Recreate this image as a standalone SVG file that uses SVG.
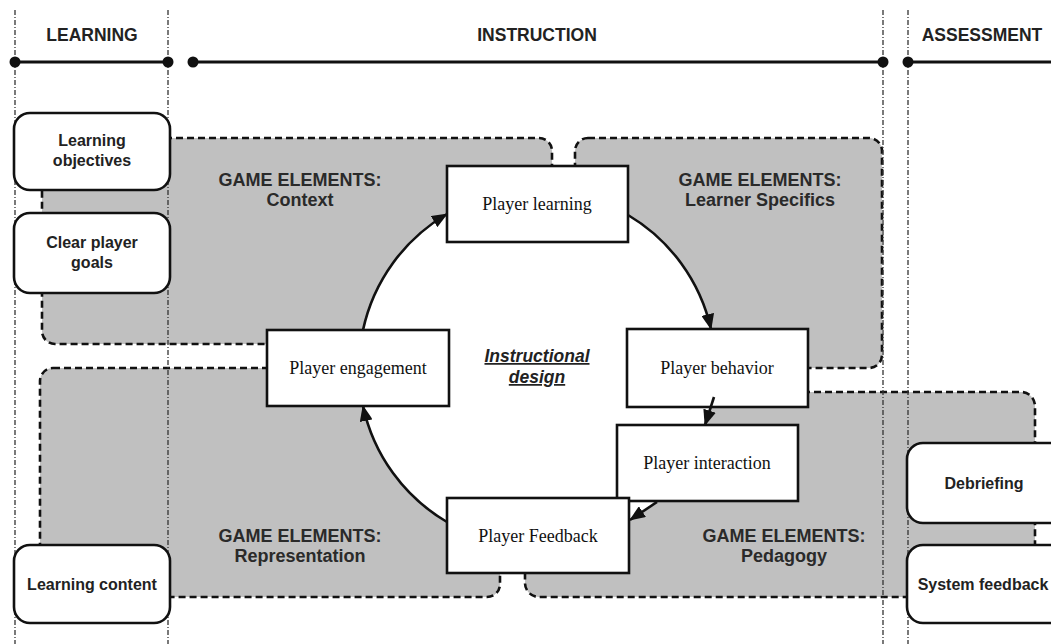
<svg xmlns="http://www.w3.org/2000/svg" width="1051" height="644" viewBox="0 0 1051 644">
<style>
.region{fill:#c0c0c0;stroke:#111;stroke-width:2.6;stroke-dasharray:7 4}
.vline{stroke:#333;stroke-width:1.3;stroke-dasharray:5 2 1 2;fill:none}
.hline{stroke:#111;stroke-width:3.2}
.dot{fill:#111}
.hdr{font-family:"Liberation Sans",Arial,sans-serif;font-weight:bold;font-size:17.5px;fill:#222;text-anchor:middle}
.ge{font-family:"Liberation Sans",Arial,sans-serif;font-weight:bold;font-size:18px;fill:#2a2a2a;text-anchor:middle}
.rbox{fill:#fff;stroke:#111;stroke-width:2.6}
.rlabel{font-family:"Liberation Sans",Arial,sans-serif;font-weight:bold;font-size:16px;fill:#222;text-anchor:middle}
.pbox{fill:#fff;stroke:#111;stroke-width:2.6}
.plabel{font-family:"Liberation Serif","Times New Roman",serif;font-size:18px;fill:#111;text-anchor:middle}
.conn{fill:none;stroke:#111;stroke-width:2.6}
.center{font-family:"Liberation Sans",Arial,sans-serif;font-weight:bold;font-style:italic;font-size:17.5px;fill:#222;text-anchor:middle;text-decoration:underline}
</style>
<defs>
<marker id="arrow" markerUnits="userSpaceOnUse" markerWidth="17" markerHeight="13" refX="15" refY="6.5" orient="auto">
<path d="M0,0 L16,6.5 L0,13 z" fill="#111"/>
</marker>
</defs>
<rect width="1051" height="644" fill="#fff"/>

<g id="regions">
<rect id="region-context" class="region" x="42" y="138" width="510" height="206" rx="13"/>
<rect id="region-learner" class="region" x="575" y="138" width="307" height="230" rx="13"/>
<rect id="region-representation" class="region" x="40" y="368" width="460" height="229" rx="13"/>
<rect id="region-pedagogy" class="region" x="525" y="392" width="510" height="205" rx="14"/>
<circle cx="537" cy="368" r="178" fill="#fff"/>
</g>

<g id="phases">
<line class="vline" x1="15" y1="10" x2="15" y2="644"/>
<line class="vline" x1="168" y1="10" x2="168" y2="644"/>
<line class="vline" x1="883" y1="10" x2="883" y2="644"/>
<line class="vline" x1="908" y1="10" x2="908" y2="644"/>
<line class="hline" x1="15" y1="62" x2="168" y2="62"/>
<line class="hline" x1="193" y1="62" x2="883" y2="62"/>
<line class="hline" x1="908" y1="62" x2="1051" y2="62"/>
<circle class="dot" cx="15" cy="62" r="5.5"/>
<circle class="dot" cx="168" cy="62" r="5.5"/>
<circle class="dot" cx="193" cy="62" r="5.5"/>
<circle class="dot" cx="883" cy="62" r="5.5"/>
<circle class="dot" cx="908" cy="62" r="5.5"/>
<text class="hdr" x="92" y="41">LEARNING</text>
<text class="hdr" x="537" y="41">INSTRUCTION</text>
<text class="hdr" x="982" y="41">ASSESSMENT</text>
</g>

<g id="region-labels">
<text class="ge" x="300" y="186">GAME ELEMENTS:</text>
<text class="ge" x="300" y="206">Context</text>
<text class="ge" x="760" y="186">GAME ELEMENTS:</text>
<text class="ge" x="760" y="206">Learner Specifics</text>
<text class="ge" x="300" y="542">GAME ELEMENTS:</text>
<text class="ge" x="300" y="562">Representation</text>
<text class="ge" x="784" y="542">GAME ELEMENTS:</text>
<text class="ge" x="784" y="562">Pedagogy</text>
<text class="center" x="537" y="362">Instructional</text>
<text class="center" x="537" y="383">design</text>
</g>

<g id="node-learning-objectives">
<rect class="rbox" x="14" y="113" width="156" height="77" rx="16"/>
<text class="rlabel" x="92" y="146">Learning</text>
<text class="rlabel" x="92" y="166">objectives</text>
</g>
<g id="node-clear-player-goals">
<rect class="rbox" x="14" y="213" width="156" height="80" rx="16"/>
<text class="rlabel" x="92" y="248">Clear player</text>
<text class="rlabel" x="92" y="268">goals</text>
</g>
<g id="node-learning-content">
<rect class="rbox" x="14" y="545" width="156" height="78" rx="16"/>
<text class="rlabel" x="92" y="590">Learning content</text>
</g>
<g id="node-debriefing">
<rect class="rbox" x="907" y="443" width="162" height="80" rx="16"/>
<text class="rlabel" x="984" y="489">Debriefing</text>
</g>
<g id="node-system-feedback">
<rect class="rbox" x="907" y="545" width="162" height="78" rx="16"/>
<text class="rlabel" x="983" y="590">System feedback</text>
</g>

<g id="node-player-learning">
<rect class="pbox" x="447" y="166" width="181" height="76"/>
<text class="plabel" x="537" y="210">Player learning</text>
</g>
<g id="node-player-behavior">
<rect class="pbox" x="627" y="329" width="181" height="78"/>
<text class="plabel" x="717" y="374">Player behavior</text>
</g>
<g id="node-player-engagement">
<rect class="pbox" x="267" y="330" width="182" height="76"/>
<text class="plabel" x="358" y="374">Player engagement</text>
</g>
<g id="node-player-interaction">
<rect class="pbox" x="617" y="425" width="181" height="76"/>
<text class="plabel" x="707" y="469">Player interaction</text>
</g>
<g id="node-player-feedback">
<rect class="pbox" x="447" y="498" width="182" height="75"/>
<text class="plabel" x="538" y="542">Player Feedback</text>
</g>

<g id="connectors">
<path class="conn" d="M363,330 A178,178 0 0 1 447,214" marker-end="url(#arrow)"/>
<path class="conn" d="M628,215 A178,178 0 0 1 711,329" marker-end="url(#arrow)"/>
<path class="conn" d="M447,522 A178,178 0 0 1 363,406" marker-end="url(#arrow)"/>
<path class="conn" d="M714,397 L705,425" marker-end="url(#arrow)"/>
<path class="conn" d="M657,502 L630,520" marker-end="url(#arrow)"/>
</g>
</svg>
